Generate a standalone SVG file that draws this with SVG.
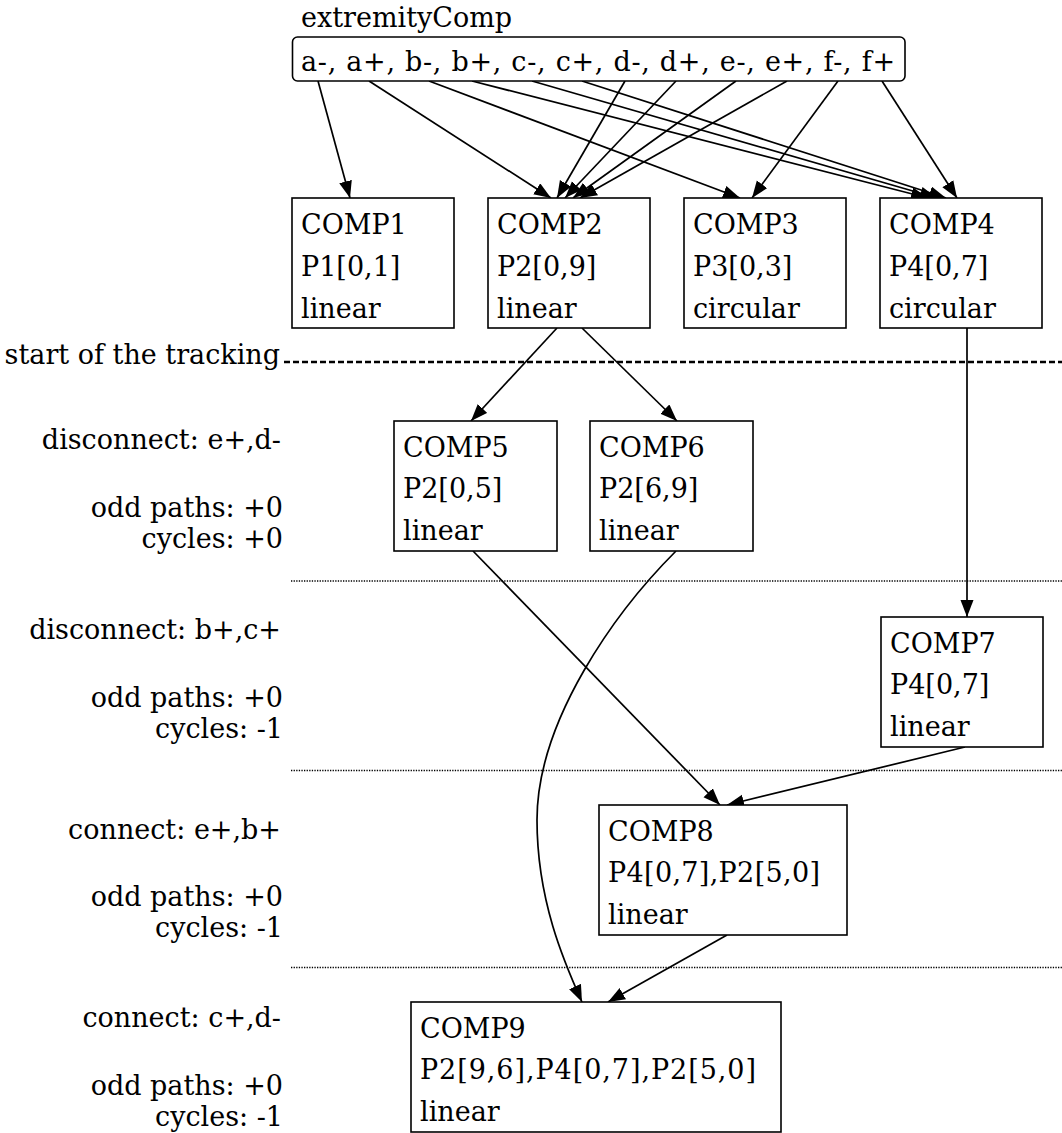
<svg xmlns="http://www.w3.org/2000/svg" width="1062" height="1133" viewBox="0 0 1062 1133">
  <style>
    text { font-family: "DejaVu Serif", "Liberation Serif", serif; font-size: 27px; fill: #000; }
    .lbl { text-anchor: end; }
    .box { fill: #fff; stroke: #000; stroke-width: 1.6; }
    .edge { fill: none; stroke: #000; stroke-width: 1.7; marker-end: url(#arrow); }
    .stage { fill: none; stroke: #000; stroke-width: 1.3; stroke-dasharray: 1.3 1.3; }
    .start { fill: none; stroke: #000; stroke-width: 2.5; stroke-dasharray: 6 3; }
  </style>
  <defs>
    <marker id="arrow" markerUnits="userSpaceOnUse" markerWidth="18" markerHeight="14" refX="17" refY="6.5" orient="auto">
      <path d="M0,0 L17,6.5 L0,13 z" fill="#000"/>
    </marker>
  </defs>
  <rect width="1062" height="1133" fill="#fff"/>

  <!-- stage separators -->
  <g id="separators">
    <line class="start" x1="284" y1="362" x2="1062" y2="362"/>
    <line class="stage" x1="291" y1="581" x2="1062" y2="581"/>
    <line class="stage" x1="291" y1="770.5" x2="1062" y2="770.5"/>
    <line class="stage" x1="291" y1="967.5" x2="1062" y2="967.5"/>
  </g>

  <!-- stage annotations -->
  <g id="labels">
    <text class="lbl" x="280" y="364">start of the tracking</text>
    <text class="lbl" x="281" y="449">disconnect: e+,d-</text>
    <text class="lbl" x="283" y="517">odd paths: +0</text>
    <text class="lbl" x="283" y="548">cycles: +0</text>
    <text class="lbl" x="281" y="639">disconnect: b+,c+</text>
    <text class="lbl" x="283" y="707">odd paths: +0</text>
    <text class="lbl" x="283" y="738">cycles: -1</text>
    <text class="lbl" x="281" y="839">connect: e+,b+</text>
    <text class="lbl" x="283" y="906">odd paths: +0</text>
    <text class="lbl" x="283" y="937">cycles: -1</text>
    <text class="lbl" x="281" y="1027">connect: c+,d-</text>
    <text class="lbl" x="283" y="1095">odd paths: +0</text>
    <text class="lbl" x="283" y="1126">cycles: -1</text>
  </g>

  <!-- connectors -->
  <g id="connectors">
    <line class="edge" x1="318" y1="81" x2="350" y2="198"/>
    <line class="edge" x1="369" y1="81" x2="551" y2="198"/>
    <line class="edge" x1="429" y1="81" x2="740" y2="198"/>
    <line class="edge" x1="472" y1="81" x2="928" y2="198"/>
    <line class="edge" x1="532" y1="81" x2="937" y2="198"/>
    <line class="edge" x1="582" y1="81" x2="946" y2="198"/>
    <line class="edge" x1="625" y1="81" x2="557" y2="198"/>
    <line class="edge" x1="676" y1="81" x2="565" y2="198"/>
    <line class="edge" x1="736" y1="81" x2="573" y2="198"/>
    <line class="edge" x1="787" y1="81" x2="580" y2="198"/>
    <line class="edge" x1="838" y1="81" x2="752" y2="198"/>
    <line class="edge" x1="882" y1="81" x2="957" y2="198"/>
    <line class="edge" x1="557" y1="328" x2="471" y2="421"/>
    <line class="edge" x1="582" y1="328" x2="677" y2="421"/>
    <line class="edge" x1="967" y1="328" x2="967" y2="617"/>
    <line class="edge" x1="473" y1="551" x2="720" y2="805"/>
    <line class="edge" x1="965" y1="747" x2="727" y2="805"/>
    <line class="edge" x1="727" y1="935" x2="608" y2="1002"/>
    <path class="edge" d="M676,551 C616,611 537,720 537,820 C537,900 564,962 582,1002"/>
  </g>

  <!-- extremity list -->
  <g id="extremityComp">
    <text x="301" y="27">extremityComp</text>
    <rect class="box" x="292.5" y="37" width="612.5" height="44" rx="5"/>
    <text x="301" y="71" textLength="594">a-, a+, b-, b+, c-, c+, d-, d+, e-, e+, f-, f+</text>
  </g>

  <g id="comp1">
    <rect class="box" x="292" y="198" width="162" height="130"/>
    <text x="301" y="234">COMP1</text>
    <text x="301" y="276">P1[0,1]</text>
    <text x="301" y="318">linear</text>
  </g>
  <g id="comp2">
    <rect class="box" x="488" y="198" width="162" height="130"/>
    <text x="497" y="234">COMP2</text>
    <text x="497" y="276">P2[0,9]</text>
    <text x="497" y="318">linear</text>
  </g>
  <g id="comp3">
    <rect class="box" x="684" y="198" width="162" height="130"/>
    <text x="693" y="234">COMP3</text>
    <text x="693" y="276">P3[0,3]</text>
    <text x="693" y="318">circular</text>
  </g>
  <g id="comp4">
    <rect class="box" x="880" y="198" width="162" height="130"/>
    <text x="889" y="234">COMP4</text>
    <text x="889" y="276">P4[0,7]</text>
    <text x="889" y="318">circular</text>
  </g>
  <g id="comp5">
    <rect class="box" x="394" y="421" width="163" height="130"/>
    <text x="403" y="457">COMP5</text>
    <text x="403" y="498">P2[0,5]</text>
    <text x="403" y="540">linear</text>
  </g>
  <g id="comp6">
    <rect class="box" x="590" y="421" width="163" height="130"/>
    <text x="599" y="457">COMP6</text>
    <text x="599" y="498">P2[6,9]</text>
    <text x="599" y="540">linear</text>
  </g>
  <g id="comp7">
    <rect class="box" x="881" y="617" width="162" height="130"/>
    <text x="890" y="653">COMP7</text>
    <text x="890" y="694">P4[0,7]</text>
    <text x="890" y="736">linear</text>
  </g>
  <g id="comp8">
    <rect class="box" x="599" y="805" width="248" height="130"/>
    <text x="608" y="841">COMP8</text>
    <text x="608" y="882" textLength="212">P4[0,7],P2[5,0]</text>
    <text x="608" y="924">linear</text>
  </g>
  <g id="comp9">
    <rect class="box" x="411" y="1002" width="370" height="130"/>
    <text x="420" y="1038">COMP9</text>
    <text x="420" y="1079" textLength="336">P2[9,6],P4[0,7],P2[5,0]</text>
    <text x="420" y="1121">linear</text>
  </g>
</svg>
